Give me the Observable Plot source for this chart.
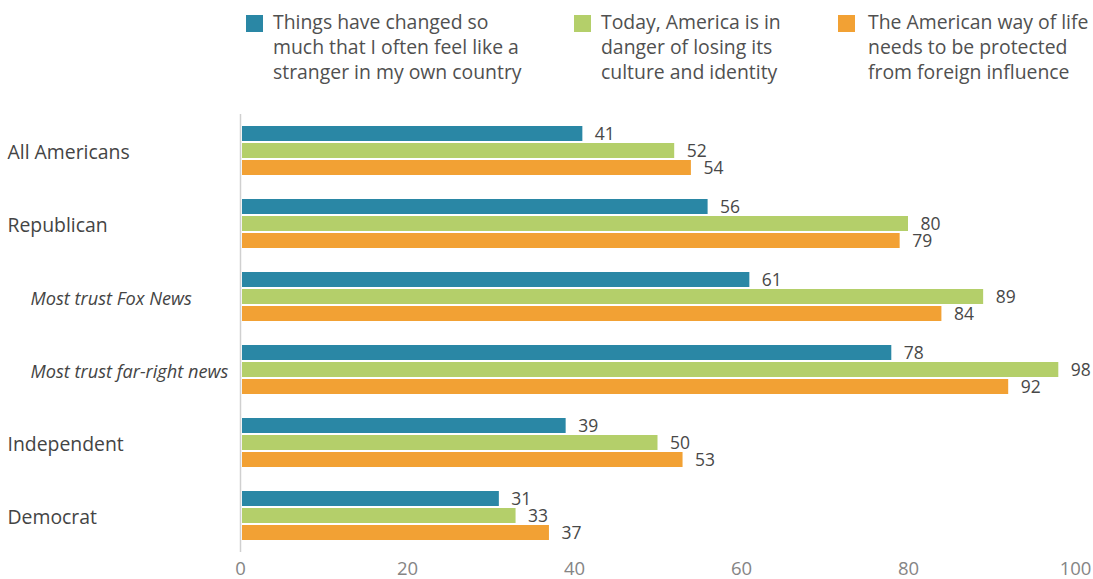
<!DOCTYPE html>
<html>
<head>
<meta charset="utf-8">
<script src="https://cdn.jsdelivr.net/npm/d3@7"></script>
<script src="https://cdn.jsdelivr.net/npm/@observablehq/plot@0.6"></script>
<style>
  html, body { margin: 0; padding: 0; background: #fff; }
  body { width: 1093px; height: 579px; overflow: hidden; font-family: "Open Sans", "Noto Sans", sans-serif; }
  #legend { position: relative; height: 100px; }
  .item { position: absolute; top: 9px; display: flex; align-items: flex-start; }
  .sw { width: 17px; height: 17px; margin-top: 6px; flex: none; }
  .lt { font-size: 19.4px; line-height: 25px; color: #505050; white-space: nowrap; }
  #chart svg { display: block; }
</style>
</head>
<body>
<div id="legend"></div>
<div id="chart"></div>
<script>
const groups = ["All Americans", "Republican", "Most trust Fox News", "Most trust far-right news", "Independent", "Democrat"];
const italicGroups = ["Most trust Fox News", "Most trust far-right news"];
const series = [
  "Things have changed so much that I often feel like a stranger in my own country",
  "Today, America is in danger of losing its culture and identity",
  "The American way of life needs to be protected from foreign influence"
];
const legendLines = [
  ["Things have changed so", "much that I often feel like a", "stranger in my own country"],
  ["Today, America is in", "danger of losing its", "culture and identity"],
  ["The American way of life", "needs to be protected", "from foreign influence"]
];
const colors = ["#2a87a5", "#b4cf6a", "#f2a134"];
const strangerValues = [41, 56, 61, 78, 39, 31];
const dangerValues = [52, 80, 89, 98, 50, 33];
const protectValues = [54, 79, 84, 92, 53, 37];
const xTicks = [0, 20, 40, 60, 80, 100];

const valueSets = [strangerValues, dangerValues, protectValues];
const data = [];
groups.forEach((g, gi) => {
  series.forEach((s, si) => data.push({group: g, series: s, value: valueSets[si][gi]}));
});

// legend
const legendX = [246, 574, 838];
const legendGap = [10, 10, 13];
const legend = document.getElementById("legend");
series.forEach((s, i) => {
  const it = document.createElement("div");
  it.className = "item";
  it.style.left = legendX[i] + "px";
  it.innerHTML = `<div class="sw" style="background:${colors[i]};margin-right:${legendGap[i]}px"></div><div class="lt">${legendLines[i].join("<br>")}</div>`;
  legend.appendChild(it);
});

const plot = Plot.plot({
  width: 1093,
  height: 479,
  marginLeft: 240,
  marginRight: 18,
  marginTop: 14,
  marginBottom: 27,
  style: {fontFamily: "'Open Sans', 'Noto Sans', sans-serif", background: "#fff"},
  x: {domain: [0, 100], ticks: xTicks, tickSize: 0, tickPadding: 9, label: null},
  fy: {domain: groups, padding: 0, axis: null},
  y: {domain: series, paddingInner: 0.143, paddingOuter: 0.657, axis: null},
  color: {domain: series, range: colors},
  marks: [
    Plot.axisX({ticks: xTicks, tickSize: 0, tickPadding: 9, fontSize: 18.5, fill: "#858585", label: null}),
    Plot.barX(data, {fy: "group", y: "series", x: "value", fill: "series", insetLeft: 2}),
    Plot.ruleX([0], {stroke: "#d0d0d0", strokeWidth: 1.5}),
    Plot.text(data, {fy: "group", y: "series", x: "value", text: d => String(d.value), textAnchor: "start", dx: 12, fontSize: 17.5, fill: "#484848"}),
    Plot.text(groups.filter(g => !italicGroups.includes(g)), {fy: d => d, text: d => d, frameAnchor: "left", textAnchor: "start", dx: -233, dy: 2, fontSize: 19.4, fill: "#444"}),
    Plot.text(groups.filter(g => italicGroups.includes(g)), {fy: d => d, text: d => d, frameAnchor: "left", textAnchor: "start", dx: -210, dy: 2, fontSize: 18.2, fontStyle: "italic", fill: "#444"})
  ]
});
document.getElementById("chart").appendChild(plot);
</script>
</body>
</html>
